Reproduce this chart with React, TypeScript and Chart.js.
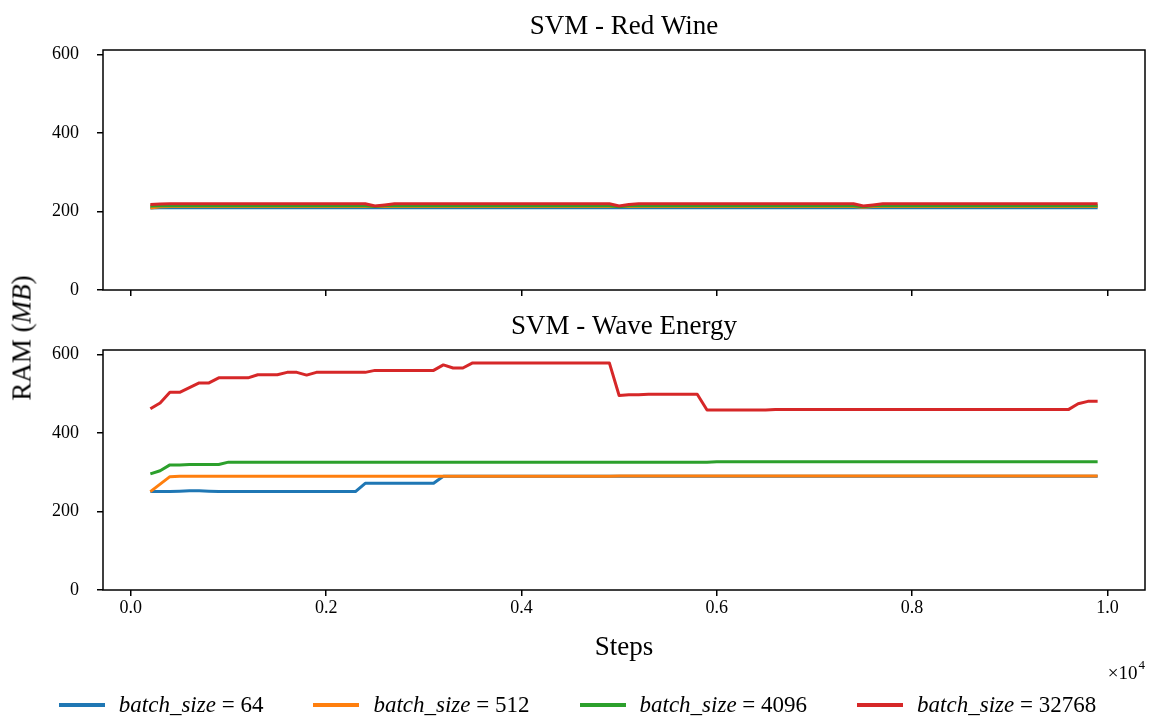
import React, { useEffect, useRef } from "react";
import { Chart, registerables } from "chart.js";

Chart.register(...registerables);

// Logging steps (every 100 training steps)
const steps = [
  200, 300, 400, 500, 600, 700, 800, 900, 1000, 1100,
  1200, 1300, 1400, 1500, 1600, 1700, 1800, 1900, 2000, 2100,
  2200, 2300, 2400, 2500, 2600, 2700, 2800, 2900, 3000, 3100,
  3200, 3300, 3400, 3500, 3600, 3700, 3800, 3900, 4000, 4100,
  4200, 4300, 4400, 4500, 4600, 4700, 4800, 4900, 5000, 5100,
  5200, 5300, 5400, 5500, 5600, 5700, 5800, 5900, 6000, 6100,
  6200, 6300, 6400, 6500, 6600, 6700, 6800, 6900, 7000, 7100,
  7200, 7300, 7400, 7500, 7600, 7700, 7800, 7900, 8000, 8100,
  8200, 8300, 8400, 8500, 8600, 8700, 8800, 8900, 9000, 9100,
  9200, 9300, 9400, 9500, 9600, 9700, 9800, 9900,
];

const batchSizes = [64, 512, 4096, 32768];
const seriesColors = ["#1f77b4", "#ff7f0e", "#2ca02c", "#d62728"];

// SVM - Red Wine, RAM in MB
const redWine64 = [
  209, 210, 210, 210, 210, 210, 210, 210, 210, 210,
  210, 210, 210, 210, 210, 210, 210, 210, 210, 210,
  210, 210, 210, 210, 210, 210, 210, 210, 210, 210,
  210, 210, 210, 210, 210, 210, 210, 210, 210, 210,
  210, 210, 210, 210, 210, 210, 210, 210, 210, 210,
  210, 210, 210, 210, 210, 210, 210, 210, 210, 210,
  210, 210, 210, 210, 210, 210, 210, 210, 210, 210,
  210, 210, 210, 210, 210, 210, 210, 210, 210, 210,
  210, 210, 210, 210, 210, 210, 210, 210, 210, 210,
  210, 210, 210, 210, 210, 210, 210, 210,
];
const redWine512 = [
  209, 212, 213, 213, 213, 213, 213, 213, 213, 213,
  213, 213, 213, 213, 213, 213, 213, 213, 213, 213,
  213, 213, 213, 213, 213, 213, 213, 213, 213, 213,
  213, 213, 213, 213, 213, 213, 213, 213, 213, 213,
  213, 213, 213, 213, 213, 213, 213, 213, 213, 213,
  213, 213, 213, 213, 213, 213, 213, 213, 213, 213,
  213, 213, 213, 213, 213, 213, 213, 213, 213, 213,
  213, 213, 213, 211, 213, 213, 213, 213, 213, 213,
  213, 213, 213, 213, 213, 213, 213, 213, 213, 213,
  213, 213, 213, 213, 213, 213, 213, 213,
];
const redWine4096 = [
  214, 215, 215, 215, 215, 215, 215, 215, 215, 215,
  215, 215, 215, 215, 215, 215, 215, 215, 215, 215,
  215, 215, 215, 213, 215, 215, 215, 215, 215, 215,
  215, 215, 215, 215, 215, 215, 215, 215, 215, 215,
  215, 215, 215, 215, 215, 215, 215, 215, 212, 215,
  215, 215, 215, 215, 215, 215, 215, 215, 215, 215,
  215, 215, 215, 215, 215, 215, 215, 215, 215, 215,
  215, 215, 215, 212, 215, 215, 215, 215, 215, 215,
  215, 215, 215, 215, 215, 215, 215, 215, 215, 215,
  215, 215, 215, 215, 215, 215, 215, 215,
];
const redWine32768 = [
  218, 219, 220, 220, 220, 220, 220, 220, 220, 220,
  220, 220, 220, 220, 220, 220, 220, 220, 220, 220,
  220, 220, 220, 214, 217, 220, 220, 220, 220, 220,
  220, 220, 220, 220, 220, 220, 220, 220, 220, 220,
  220, 220, 220, 220, 220, 220, 220, 220, 214, 218,
  220, 220, 220, 220, 220, 220, 220, 220, 220, 220,
  220, 220, 220, 220, 220, 220, 220, 220, 220, 220,
  220, 220, 220, 214, 217, 220, 220, 220, 220, 220,
  220, 220, 220, 220, 220, 220, 220, 220, 220, 220,
  220, 220, 220, 220, 220, 220, 220, 220,
];

// SVM - Wave Energy, RAM in MB
const waveEnergy64 = [
  251, 251, 251, 252, 253, 253, 252, 251, 251, 251,
  251, 251, 251, 251, 251, 251, 251, 251, 251, 251,
  251, 251, 272, 272, 272, 272, 272, 272, 272, 272,
  290, 290, 290, 290, 290, 290, 290, 290, 290, 290,
  290, 290, 290, 290, 290, 290, 290, 290, 290, 290,
  290, 290, 290, 290, 290, 290, 290, 290, 290, 290,
  290, 290, 290, 290, 290, 290, 290, 290, 290, 290,
  290, 290, 290, 290, 290, 290, 290, 290, 290, 290,
  290, 290, 290, 290, 290, 290, 290, 290, 290, 290,
  290, 290, 290, 290, 290, 290, 290, 290,
];
const waveEnergy512 = [
  251, 270, 289, 290, 290, 290, 290, 290, 290, 290,
  290, 290, 290, 290, 290, 290, 290, 290, 290, 290,
  290, 290, 290, 290, 290, 290, 290, 290, 290, 290,
  290, 290, 290, 290, 290, 290, 290, 290, 290, 290,
  290, 290, 290, 290, 290, 290, 290, 290, 291, 291,
  291, 291, 291, 291, 291, 291, 291, 291, 291, 291,
  291, 291, 291, 291, 291, 291, 291, 291, 291, 291,
  291, 291, 291, 291, 291, 291, 291, 291, 291, 291,
  291, 291, 291, 291, 291, 291, 291, 291, 291, 291,
  291, 291, 291, 291, 291, 291, 291, 291,
];
const waveEnergy4096 = [
  296, 304, 319, 319, 320, 320, 320, 320, 326, 326,
  326, 326, 326, 326, 326, 326, 326, 326, 326, 326,
  326, 326, 326, 326, 326, 326, 326, 326, 326, 326,
  326, 326, 326, 326, 326, 326, 326, 326, 326, 326,
  326, 326, 326, 326, 326, 326, 326, 326, 326, 326,
  326, 326, 326, 326, 326, 326, 326, 326, 327, 327,
  327, 327, 327, 327, 327, 327, 327, 327, 327, 327,
  327, 327, 327, 327, 327, 327, 327, 327, 327, 327,
  327, 327, 327, 327, 327, 327, 327, 327, 327, 327,
  327, 327, 327, 327, 327, 327, 327, 327,
];
const waveEnergy32768 = [
  462, 477, 504, 504, 516, 528, 528, 541, 541, 541,
  541, 549, 549, 549, 555, 555, 548, 555, 555, 555,
  555, 555, 555, 560, 560, 560, 560, 560, 560, 560,
  574, 566, 566, 579, 579, 579, 579, 579, 579, 579,
  579, 579, 579, 579, 579, 579, 579, 579, 496, 498,
  498, 499, 499, 499, 499, 499, 499, 459, 459, 459,
  459, 459, 459, 459, 460, 460, 460, 460, 460, 460,
  460, 460, 460, 460, 460, 460, 460, 460, 460, 460,
  460, 460, 460, 460, 460, 460, 460, 460, 460, 460,
  460, 460, 460, 460, 460, 475, 481, 481,
];

const xTickValues = [0, 2000, 4000, 6000, 8000, 10000];
const yTickValues = [0, 200, 400, 600];

const FONT = "'Liberation Serif', 'Times New Roman', serif";

// Draws the full black box around each panel (all four spines)
const framePlugin = {
  id: "axesFrame",
  afterDatasetsDraw(chart: any) {
    const { ctx, chartArea: a } = chart;
    ctx.save();
    ctx.strokeStyle = "#000";
    ctx.lineWidth = 1.5;
    ctx.strokeRect(a.left, a.top, a.right - a.left, a.bottom - a.top);
    ctx.restore();
  },
};

// Scientific offset text under the right end of the x axis
const offsetTextPlugin = {
  id: "xOffsetText",
  afterDraw(chart: any) {
    const { ctx, chartArea: a } = chart;
    ctx.save();
    ctx.fillStyle = "#000";
    ctx.textBaseline = "middle";
    ctx.textAlign = "right";
    ctx.font = `13px ${FONT}`;
    const supW = ctx.measureText("4").width;
    ctx.fillText("4", a.right, a.bottom + 76);
    ctx.font = `19px ${FONT}`;
    ctx.fillText("\u00d710", a.right - supW - 1, a.bottom + 84);
    ctx.restore();
  },
};

function buildConfig(title: string, series: number[][], bottomPanel: boolean): any {
  const xAxisHeight = bottomPanel ? 130 : 10;
  return {
    type: "line",
    data: {
      datasets: series.map((vals, i) => ({
        label: `batch_size = ${batchSizes[i]}`,
        data: steps.map((s, j) => ({ x: s, y: vals[j] })),
        borderColor: seriesColors[i],
        backgroundColor: seriesColors[i],
        borderWidth: 3,
        pointRadius: 0,
        tension: 0,
        fill: false,
        borderJoinStyle: "round",
        borderCapStyle: "butt",
        order: series.length - i,
      })),
    },
    options: {
      responsive: false,
      animation: false,
      devicePixelRatio: 1,
      layout: { padding: { left: 0, right: 10, top: 0, bottom: 0 } },
      plugins: {
        legend: { display: false },
        tooltip: { enabled: false },
        title: {
          display: true,
          text: title,
          fullSize: false,
          color: "#000",
          font: { family: FONT, size: 27, weight: "normal", lineHeight: 1.2 },
          padding: { top: 10.8, bottom: 6.8 },
        },
      },
      scales: {
        x: {
          type: "linear",
          min: -285,
          max: 10385,
          afterBuildTicks: (s: any) => {
            s.ticks = xTickValues.map((v) => ({ value: v }));
          },
          afterFit: (s: any) => {
            s.height = xAxisHeight;
            s.paddingLeft = 0;
            s.paddingRight = 0;
          },
          grid: {
            display: true,
            drawOnChartArea: false,
            drawTicks: true,
            tickLength: 6,
            color: "#000",
            lineWidth: 1.5,
          },
          border: { display: false },
          ticks: {
            display: bottomPanel,
            autoSkip: false,
            maxRotation: 0,
            padding: 1,
            color: "#000",
            font: { family: FONT, size: 18 },
            callback: (v: number) => (v / 10000).toFixed(1),
          },
          title: {
            display: bottomPanel,
            text: "Steps",
            color: "#000",
            font: { family: FONT, size: 27, lineHeight: 1.2 },
            padding: { top: 0, bottom: 55.8 },
          },
        },
        y: {
          type: "linear",
          min: 0,
          max: 612,
          afterBuildTicks: (s: any) => {
            s.ticks = yTickValues.map((v) => ({ value: v }));
          },
          afterFit: (s: any) => {
            s.width = 103;
            s.paddingTop = 0;
            s.paddingBottom = 0;
          },
          grid: {
            display: true,
            drawOnChartArea: false,
            drawTicks: true,
            tickLength: 6,
            color: "#000",
            lineWidth: 1.5,
          },
          border: { display: false },
          ticks: {
            padding: 18,
            color: "#000",
            font: { family: FONT, size: 18 },
            callback: (v: number) => String(v),
          },
        },
      },
    },
    plugins: bottomPanel ? [framePlugin, offsetTextPlugin] : [framePlugin],
  };
}

export default function App() {
  const topRef = useRef<HTMLCanvasElement | null>(null);
  const bottomRef = useRef<HTMLCanvasElement | null>(null);

  useEffect(() => {
    if (!topRef.current || !bottomRef.current) return;
    const top = new Chart(
      topRef.current,
      buildConfig("SVM - Red Wine", [redWine64, redWine512, redWine4096, redWine32768], false)
    );
    const bottom = new Chart(
      bottomRef.current,
      buildConfig(
        "SVM - Wave Energy",
        [waveEnergy64, waveEnergy512, waveEnergy4096, waveEnergy32768],
        true
      )
    );
    return () => {
      top.destroy();
      bottom.destroy();
    };
  }, []);

  return (
    <div
      style={{
        position: "absolute",
        left: 0,
        top: 0,
        width: 1155,
        height: 720,
        background: "#fff",
        fontFamily: FONT,
        color: "#000",
      }}
    >
      <canvas ref={topRef} width={1155} height={300} style={{ position: "absolute", left: 0, top: 0 }} />
      <canvas ref={bottomRef} width={1155} height={420} style={{ position: "absolute", left: 0, top: 300 }} />
      <div
        style={{
          position: "absolute",
          left: 22,
          top: 338,
          transform: "translate(-50%, -50%) rotate(-90deg)",
          whiteSpace: "nowrap",
          fontSize: 27,
          lineHeight: 1,
        }}
      >
        RAM (<i>MB</i>)
      </div>
      <div
        style={{
          position: "absolute",
          left: 0,
          top: 690,
          width: 1155,
          height: 30,
          display: "flex",
          justifyContent: "center",
          alignItems: "center",
          gap: 50,
          fontSize: 23,
        }}
      >
        {batchSizes.map((b, i) => (
          <div key={b} style={{ display: "flex", alignItems: "center" }}>
            <span
              style={{
                display: "inline-block",
                width: 46,
                height: 3.5,
                background: seriesColors[i],
                marginRight: 14,
              }}
            />
            <span>
              <i>batch_size</i> = {b}
            </span>
          </div>
        ))}
      </div>
    </div>
  );
}
